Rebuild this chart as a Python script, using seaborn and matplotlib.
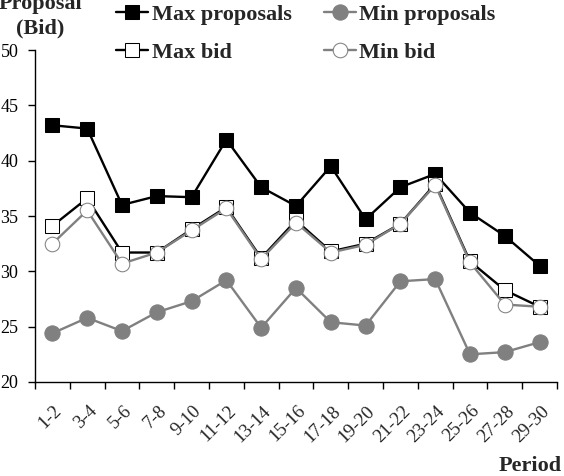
import seaborn as sns
import matplotlib.pyplot as plt
import matplotlib.transforms as mtransforms
import numpy as np

sns.set_theme(style='white')
plt.rcParams['font.family'] = ['Liberation Serif', 'DejaVu Serif']

periods = ['1-2', '3-4', '5-6', '7-8', '9-10', '11-12', '13-14', '15-16',
           '17-18', '19-20', '21-22', '23-24', '25-26', '27-28', '29-30']
max_proposals = [43.2, 42.9, 36.0, 36.8, 36.7, 41.9, 37.6, 35.9,
                 39.5, 34.7, 37.6, 38.8, 35.3, 33.2, 30.5]
min_proposals = [24.4, 25.8, 24.6, 26.3, 27.3, 29.2, 24.9, 28.5,
                 25.4, 25.1, 29.1, 29.3, 22.5, 22.7, 23.6]
max_bid = [34.1, 36.6, 31.7, 31.7, 33.8, 35.8, 31.2, 34.6,
           31.8, 32.5, 34.3, 37.9, 30.9, 28.3, 26.8]
min_bid = [32.5, 35.5, 30.7, 31.7, 33.7, 35.7, 31.1, 34.4,
           31.7, 32.4, 34.3, 37.8, 30.8, 27.0, 26.8]

gray = '#808080'
x = np.arange(len(periods))

fig = plt.figure(figsize=(5.64, 4.76), dpi=100)
ax = fig.add_axes([35 / 564, 1 - 382 / 476, (557 - 35) / 564, (382 - 50) / 476])

sns.lineplot(x=x, y=max_proposals, ax=ax, color='black', lw=1.7, marker='s',
             markersize=10, markerfacecolor='black', markeredgecolor='black',
             label='Max proposals')
sns.lineplot(x=x, y=max_bid, ax=ax, color='black', lw=1.7, marker='s',
             markersize=10, markerfacecolor='white', markeredgecolor='black',
             label='Max bid')
sns.lineplot(x=x, y=min_bid, ax=ax, color=gray, lw=1.7, marker='o',
             markersize=10.5, markerfacecolor='white', markeredgecolor=gray,
             label='Min bid')
sns.lineplot(x=x, y=min_proposals, ax=ax, color=gray, lw=1.7, marker='o',
             markersize=11, markerfacecolor=gray, markeredgecolor=gray,
             label='Min proposals')

ax.set_xlim(-0.5, len(periods) - 0.5)
ax.set_ylim(20, 50)
ax.set_yticks(range(20, 51, 5))
ax.tick_params(axis='y', labelsize=13, length=5, width=1, direction='out',
               left=True, colors='black', pad=7)
ax.set_xticks(x)
ax.set_xticklabels(periods, rotation=45, ha='right', va='center',
                   rotation_mode='anchor', fontsize=13.5)
ax.tick_params(axis='x', which='major', length=0, pad=19)
offset = mtransforms.ScaledTranslation(7 / 100, 0, fig.dpi_scale_trans)
for lab in ax.get_xticklabels():
    lab.set_transform(lab.get_transform() + offset)
ax.set_xticks(np.arange(-0.5, len(periods), 1), minor=True)
ax.tick_params(axis='x', which='minor', length=5, width=1, bottom=True,
               direction='out', color='black')
sns.despine(ax=ax)
for s in ['left', 'bottom']:
    ax.spines[s].set_color('black')
    ax.spines[s].set_linewidth(1)

ax.legend_.remove()
h, l = ax.get_legend_handles_labels()
order = [0, 1, 3, 2]
fig.legend([h[i] for i in order], [l[i] for i in order], ncol=2,
           loc='upper left', bbox_to_anchor=(116 / 564, 1 - 4 / 476),
           frameon=False, prop={'weight': 'bold', 'size': 16},
           handlelength=1.44, handletextpad=0.16, columnspacing=1.45,
           labelspacing=0.8, borderpad=0, borderaxespad=0)

fig.text(40 / 564, 1 - 33 / 476, 'Proposal\n(Bid)', ha='center', va='baseline',
         fontsize=16, fontweight='bold', linespacing=1.3)
fig.text(562 / 564, 1 - 471 / 476, 'Period', ha='right', va='baseline',
         fontsize=16, fontweight='bold')

fig.savefig('out.png', dpi=100)
